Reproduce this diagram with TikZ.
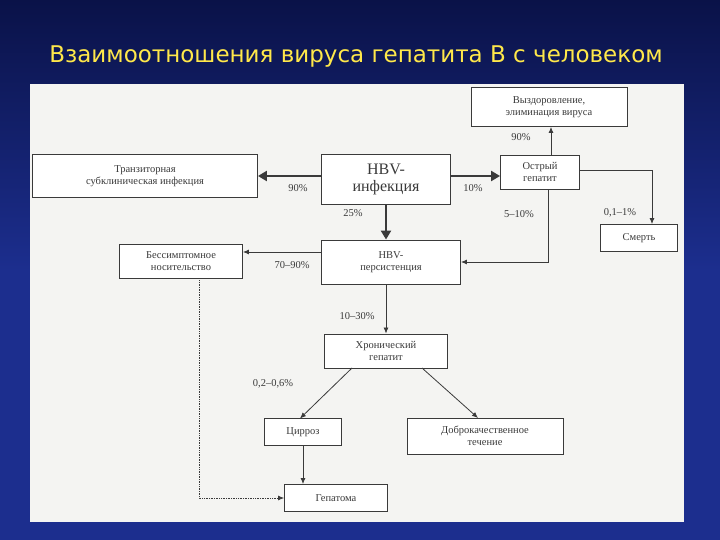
\documentclass[tikz,border=0pt]{standalone}
\usepackage{fontspec}
\setmainfont{Liberation Serif}
\newfontfamily\titlefont{DejaVu Sans}
\usetikzlibrary{arrows.meta}
\definecolor{bgblue}{HTML}{1C2E8E}
\definecolor{bgdark}{HTML}{0A1248}
\definecolor{titlecol}{HTML}{FFE84A}
\definecolor{ink}{HTML}{3A3A3A}
\definecolor{paper}{HTML}{F4F4F2}
\tikzset{
  bx/.style={draw=ink, line width=0.9pt, fill=white, text=ink, font=\fontsize{10.5}{11.5}\selectfont, align=center, inner sep=0pt},
  thin/.style={draw=ink, line width=0.8pt, -{Latex[length=6pt,width=5pt]}},
  thick/.style={draw=ink, line width=2.6pt, -{Triangle[length=9pt,width=10pt]}},
  lbl/.style={text=ink, font=\fontsize{10.5}{11.5}\selectfont, inner sep=0pt},
}
\begin{document}
\begin{tikzpicture}[x=1pt,y=-1pt]
\useasboundingbox (0,0) rectangle (720,540);
\shade[top color=bgdark, bottom color=bgblue, middle color=bgblue] (0,0) rectangle (720,540);
\node[text=titlecol, font=\titlefont\fontsize{23}{26}\selectfont] (title) at (356,57) {Взаимоотношения вируса гепатита В с человеком};
\fill[paper] (30,84) rectangle (684,522);
% boxes
\node[bx, minimum width=156, minimum height=39] (rec) at (549,107) {Выздоровление,\\элиминация вируса};
\node[bx, minimum width=225, minimum height=43] (tr) at (145,176) {Транзиторная\\субклиническая инфекция};
\node[bx, minimum width=129, minimum height=50, font=\fontsize{16}{17}\selectfont] (hbv) at (386,179) {HBV-\\инфекция};
\node[bx, minimum width=79, minimum height=34] (ac) at (540,172) {Острый\\гепатит};
\node[bx, minimum width=77, minimum height=27] (de) at (639,238) {Смерть};
\node[bx, minimum width=123, minimum height=34] (as) at (181,261) {Бессимптомное\\носительство};
\node[bx, minimum width=139, minimum height=44] (pe) at (391,262) {HBV-\\персистенция};
\node[bx, minimum width=123, minimum height=34] (ch) at (386,351) {Хронический\\гепатит};
\node[bx, minimum width=77, minimum height=27] (ci) at (303,432) {Цирроз};
\node[bx, minimum width=156, minimum height=36] (be) at (485,436) {Доброкачественное\\течение};
\node[bx, minimum width=103, minimum height=27] (he) at (336,498) {Гепатома};
% connectors
\draw[thick] (hbv.west |- 0,176) -- (tr.east |- 0,176);
\draw[thick] (hbv.east |- 0,176) -- (ac.west |- 0,176);
\draw[thick] (hbv.south) -- (hbv.south |- pe.north);
\draw[thin] (ac.north -| 551,0) -- (rec.south -| 551,0);
\draw[thin] (ac.east |- 0,170) -| (de.north -| 652,0);
\draw[thin] (ac.south -| 548,0) |- (pe.east);
\draw[thin] (pe.west |- 0,252) -- (as.east |- 0,252);
\draw[thin] (pe.south -| ch.north) -- (ch.north);
\draw[thin] (352,368) -- (300,418.5);
\draw[thin] (422,368) -- (478,418);
\draw[thin] (ci.south) -- (ci.south |- he.north);
\draw[draw=ink, line width=0.7pt, densely dotted, -{Latex[length=6pt,width=5pt]}] (as.south -| 199,0) |- (he.west);
% labels
\node[lbl] (l1) at (298,188) {90\%};
\node[lbl] (l2) at (473,188) {10\%};
\node[lbl] (l3) at (521,137) {90\%};
\node[lbl] (l4) at (620,213) {0,1--1\%};
\node[lbl] (l5) at (519,214) {5--10\%};
\node[lbl] (l6) at (353,213) {25\%};
\node[lbl] (l7) at (292,265) {70--90\%};
\node[lbl] (l8) at (357,316) {10--30\%};
\node[lbl] (l9) at (273,384) {0,2--0,6\%};
\end{tikzpicture}
\end{document}
